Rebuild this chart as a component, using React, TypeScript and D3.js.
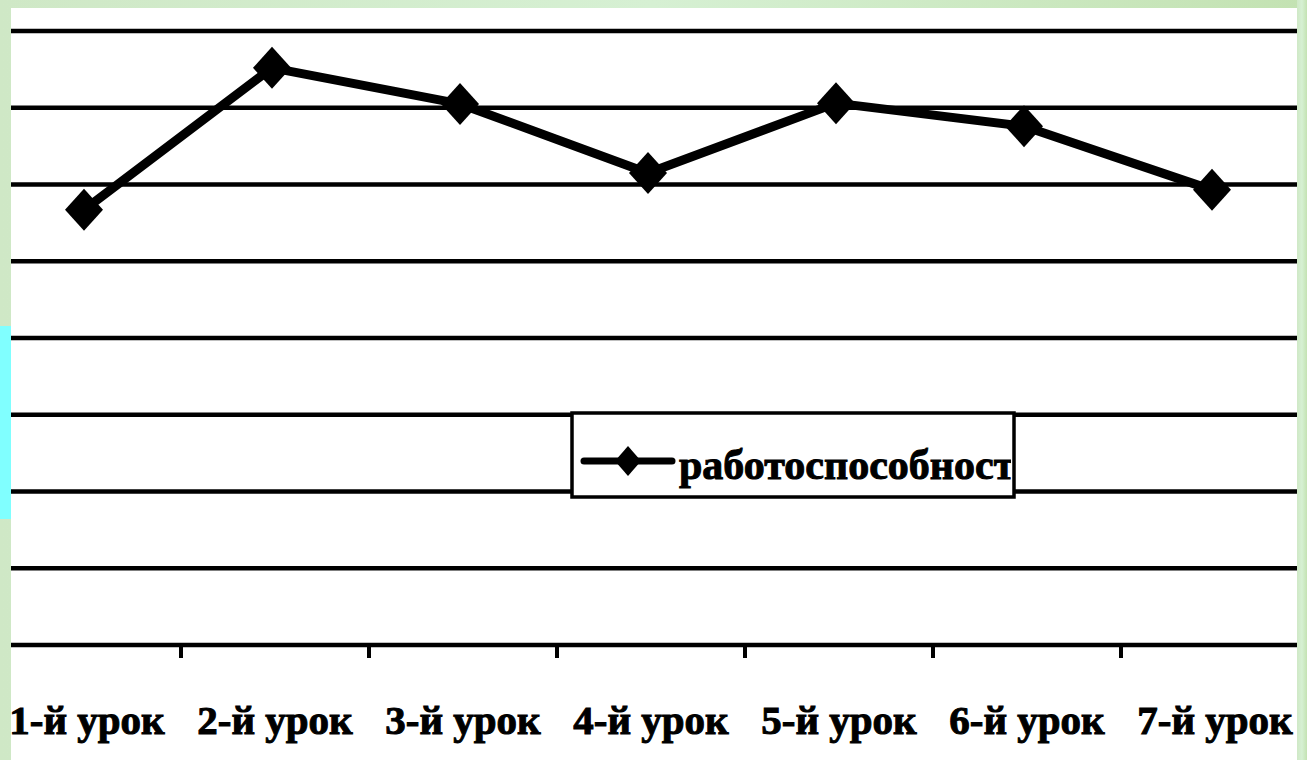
import React, { useRef, useEffect } from "react";
import * as d3 from "d3";

const lessons = ["1-й урок", "2-й урок", "3-й урок", "4-й урок", "5-й урок", "6-й урок", "7-й урок"];
const performance = [56.7, 75.2, 70.5, 61.5, 70.6, 67.6, 59.3];
const gridValues = [0, 10, 20, 30, 40, 50, 60, 70, 80];
const seriesName = "работоспособности";

const App = () => {
  const svgRef = useRef(null);

  useEffect(() => {
    const width = 1307;
    const height = 760;
    const plot = { left: 11, right: 1297, top: 8 };

    const svg = d3.select(svgRef.current);
    svg.selectAll("*").remove();

    // page background (pale green slide)
    const defs = svg.append("defs");
    const grad = defs
      .append("linearGradient")
      .attr("id", "bg")
      .attr("x1", 0)
      .attr("x2", 1)
      .attr("y1", 0)
      .attr("y2", 0);
    grad.append("stop").attr("offset", "0%").attr("stop-color", "#cfe8c6");
    grad.append("stop").attr("offset", "50%").attr("stop-color", "#d6f0d3");
    grad.append("stop").attr("offset", "100%").attr("stop-color", "#c3e2b2");
    svg.append("rect").attr("width", width).attr("height", height).attr("fill", "url(#bg)");

    // white scanned chart area
    svg
      .append("rect")
      .attr("x", plot.left)
      .attr("y", plot.top)
      .attr("width", plot.right - plot.left)
      .attr("height", height - plot.top)
      .attr("fill", "#ffffff");

    // cyan marker on the left edge
    svg.append("rect").attr("x", 0).attr("y", 326).attr("width", plot.left).attr("height", 193).attr("fill", "#80ffff");

    const x = d3.scaleBand().domain(lessons).range([-10, 1306]).padding(0);
    const y = d3.scaleLinear().domain([0, 80]).range([645, 31]);

    const g = svg.append("g");

    // horizontal gridlines
    g.append("g")
      .selectAll("line")
      .data(gridValues)
      .join("line")
      .attr("x1", plot.left)
      .attr("x2", plot.right)
      .attr("y1", (d) => y(d))
      .attr("y2", (d) => y(d))
      .attr("stroke", "#000")
      .attr("stroke-width", 4.5);

    // x axis ticks between categories
    const tickXs = lessons.slice(1).map((d) => x(d));
    g.append("g")
      .selectAll("line")
      .data(tickXs)
      .join("line")
      .attr("x1", (d) => d + 3)
      .attr("x2", (d) => d + 3)
      .attr("y1", y(0))
      .attr("y2", y(0) + 13)
      .attr("stroke", "#000")
      .attr("stroke-width", 4);

    // x labels
    g.append("g")
      .selectAll("text")
      .data(lessons)
      .join("text")
      .attr("x", (d) => x(d) + x.bandwidth() / 2 + 3)
      .attr("y", 734)
      .attr("text-anchor", "middle")
      .attr("font-family", "Liberation Serif, serif")
      .attr("font-weight", "bold")
      .attr("font-size", 41)
      .attr("fill", "#000")
      .attr("stroke", "#000")
      .attr("stroke-width", 1)
      .text((d) => d);

    // line
    const line = d3
      .line()
      .x((d, i) => x(lessons[i]) + x.bandwidth() / 2)
      .y((d) => y(d));

    g.append("path")
      .datum(performance)
      .attr("d", line)
      .attr("fill", "none")
      .attr("stroke", "#000")
      .attr("stroke-width", 9)
      .attr("stroke-linejoin", "round");

    const diamond = (cx, cy, hw, hh) =>
      `M${cx},${cy - hh}L${cx + hw},${cy}L${cx},${cy + hh}L${cx - hw},${cy}Z`;

    g.append("g")
      .selectAll("path")
      .data(performance)
      .join("path")
      .attr("d", (d, i) => diamond(x(lessons[i]) + x.bandwidth() / 2, y(d), 19, 21))
      .attr("fill", "#000");

    // cropped right side
    svg.append("rect").attr("x", plot.right).attr("y", 0).attr("width", width - plot.right).attr("height", height).attr("fill", "url(#bg)");

    // legend
    const lg = { x: 572, y: 413, w: 442, h: 84 };
    defs
      .append("clipPath")
      .attr("id", "legclip")
      .append("rect")
      .attr("x", lg.x)
      .attr("y", lg.y)
      .attr("width", lg.w - 3)
      .attr("height", lg.h);

    const legend = svg.append("g");
    legend
      .append("rect")
      .attr("x", lg.x)
      .attr("y", lg.y)
      .attr("width", lg.w)
      .attr("height", lg.h)
      .attr("fill", "#fff")
      .attr("stroke", "#000")
      .attr("stroke-width", 3.5);
    legend
      .append("line")
      .attr("x1", 584)
      .attr("x2", 672)
      .attr("y1", 461)
      .attr("y2", 461)
      .attr("stroke", "#000")
      .attr("stroke-width", 7)
      .attr("stroke-linecap", "round");
    legend.append("path").attr("d", diamond(628, 461, 13, 15)).attr("fill", "#000");
    legend
      .append("text")
      .attr("clip-path", "url(#legclip)")
      .attr("x", 679)
      .attr("y", 479)
      .attr("font-family", "Liberation Serif, serif")
      .attr("font-weight", "bold")
      .attr("font-size", 42)
      .attr("fill", "#000")
      .attr("stroke", "#000")
      .attr("stroke-width", 1)
      .text(seriesName);
  }, []);

  return (
    <div style={{ position: "fixed", left: 0, top: 0, width: 1307, height: 760 }}>
      <svg ref={svgRef} width={1307} height={760} style={{ display: "block" }} />
    </div>
  );
};

export default App;
